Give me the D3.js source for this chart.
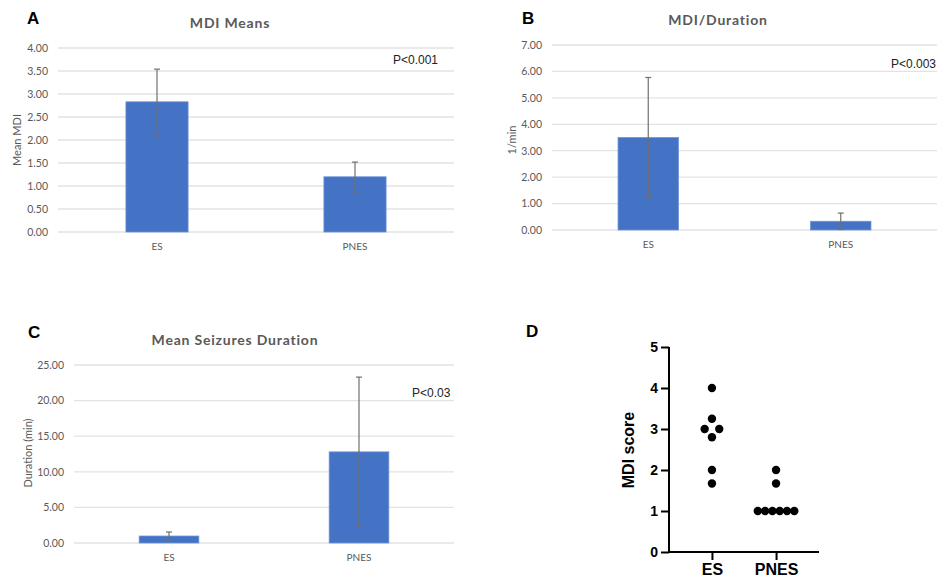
<!DOCTYPE html>
<html>
<head>
<meta charset="utf-8">
<script src="https://cdn.jsdelivr.net/npm/d3@7"></script>
<style>
  body { margin: 0; background: #fff; }
  svg { display: block; }
</style>
</head>
<body>
<svg id="fig" width="939" height="584"></svg>
<script>
// ---- data ----
var groups = ["ES", "PNES"];

var mdiMeans = [2.83, 1.20];
var mdiMeansErr = [[2.09, 3.54], [0.87, 1.52]];
var mdiMeansTicks = [0, 0.5, 1, 1.5, 2, 2.5, 3, 3.5, 4];

var mdiDur = [3.50, 0.33];
var mdiDurErr = [[1.27, 5.77], [0.02, 0.64]];
var mdiDurTicks = [0, 1, 2, 3, 4, 5, 6, 7];

var seizDur = [0.98, 12.8];
var seizDurErr = [[0.42, 1.54], [2.25, 23.3]];
var seizDurTicks = [0, 5, 10, 15, 20, 25];

var scoresES = [4, 3.25, 3, 3, 2.8, 2, 1.67];
var scoresPNES = [2, 1.67, 1, 1, 1, 1, 1, 1];
var scoreTicks = [0, 1, 2, 3, 4, 5];

var svg = d3.select("#fig");
var xlFont = "Lato, 'Open Sans', sans-serif";

/**
 * excel-ish bar chart with error bars
 */
function barPanel(o) {
    var g = svg.append("g");
    var x = d3.scaleBand().domain(groups).range([o.left, o.right])
        .paddingInner(0.686).paddingOuter(0.343);
    var y = d3.scaleLinear().domain([0, d3.max(o.ticks)]).range([o.bottom, o.top]);

    // gridlines
    g.selectAll(".grid").data(o.ticks).enter().append("line")
        .attr("x1", o.left).attr("x2", o.right)
        .attr("y1", function (d) { return y(d); })
        .attr("y2", function (d) { return y(d); })
        .style("stroke", "#e3e3e3").style("stroke-width", 1.3);

    var ax = d3.axisLeft(y).tickValues(o.ticks).tickSize(0).tickPadding(0)
        .tickFormat(d3.format(".2f"));
    var ay = g.append("g").attr("transform", "translate(" + o.labelX + ",0)").call(ax);
    ay.select(".domain").remove();
    ay.selectAll("text").style("font-family", xlFont).style("font-size", "10.5px")
        .style("fill", "#595959");

    g.selectAll(".bar").data(o.values).enter().append("rect")
        .attr("x", function (d, i) { return x(groups[i]); })
        .attr("width", x.bandwidth())
        .attr("y", function (d) { return y(d); })
        .attr("height", function (d) { return y(0) - y(d); })
        .style("fill", "#4472c4").style("stroke", "#6f93d6").style("stroke-width", 0.8);

    // error bars
    o.err.forEach(function (e, i) {
        var cx = x(groups[i]) + x.bandwidth() / 2;
        g.append("line").attr("x1", cx).attr("x2", cx)
            .attr("y1", y(e[0])).attr("y2", y(e[1]))
            .style("stroke", "#707070").style("stroke-width", 1.2);
        e.forEach(function (v) {
            g.append("line").attr("x1", cx - 3).attr("x2", cx + 3)
                .attr("y1", y(v)).attr("y2", y(v))
                .style("stroke", "#707070").style("stroke-width", 1.2);
        });
    });

    var xa = g.append("g").attr("transform", "translate(0," + (o.bottom + 7) + ")")
        .call(d3.axisBottom(x).tickSize(0).tickPadding(4));
    xa.select(".domain").remove();
    xa.selectAll("text").style("font-family", xlFont).style("font-size", "10px")
        .style("fill", "#595959");

    g.append("text").attr("x", o.titleX).attr("y", o.titleY).attr("text-anchor", "middle")
        .style("font-family", xlFont).style("font-weight", "bold").style("font-size", "14px")
        .style("letter-spacing", "0.8px").style("fill", "#595959").text(o.title);

    g.append("text")
        .attr("transform", "translate(" + o.ylabX + "," + o.ylabY + ") rotate(-90)")
        .attr("text-anchor", "middle")
        .style("font-family", xlFont).style("font-size", "11px").style("fill", "#595959")
        .text(o.ylab);

    g.append("text").attr("x", o.pX).attr("y", o.pY)
        .style("font-family", "'Liberation Sans', Arial, sans-serif").style("font-size", "12px")
        .style("fill", "#222").text(o.p);

    g.append("text").attr("x", o.letterX).attr("y", o.letterY)
        .style("font-family", "'Liberation Sans', Arial, sans-serif").style("font-weight", "bold")
        .style("font-size", "17px").style("fill", "#000").text(o.letter);
}

barPanel({
    values: mdiMeans, err: mdiMeansErr, ticks: mdiMeansTicks,
    left: 58, right: 454, top: 48, bottom: 232, labelX: 48,
    title: "MDI Means", titleX: 230, titleY: 28,
    ylab: "Mean MDI", ylabX: 21, ylabY: 140,
    p: "P<0.001", pX: 393, pY: 64, letter: "A", letterX: 27, letterY: 24
});

barPanel({
    values: mdiDur, err: mdiDurErr, ticks: mdiDurTicks,
    left: 552, right: 937, top: 45, bottom: 230, labelX: 542,
    title: "MDI/Duration", titleX: 718, titleY: 25,
    ylab: "1/min", ylabX: 516, ylabY: 140,
    p: "P<0.003", pX: 891, pY: 68, letter: "B", letterX: 522, letterY: 24
});

barPanel({
    values: seizDur, err: seizDurErr, ticks: seizDurTicks,
    left: 74, right: 454, top: 365, bottom: 543, labelX: 64,
    title: "Mean Seizures Duration", titleX: 235, titleY: 345,
    ylab: "Duration (min)", ylabX: 32, ylabY: 453,
    p: "P<0.03", pX: 412, pY: 397, letter: "C", letterX: 28, letterY: 338
});

// ---- panel D: scatter dot plot ----
var gd = svg.append("g");
var xd = d3.scalePoint().domain(groups).range([669, 819]).padding(0.67);
var yd = d3.scaleLinear().domain([0, 5]).range([552, 347]);
var arial = "'Liberation Sans', Arial, sans-serif";

var yAx = gd.append("g").attr("transform", "translate(669,0)")
    .call(d3.axisLeft(yd).tickValues(scoreTicks).tickFormat(d3.format("d"))
        .tickSize(8).tickPadding(3));
var xAx = gd.append("g").attr("transform", "translate(0,552)")
    .call(d3.axisBottom(xd).tickSize(8).tickPadding(4).tickSizeOuter(0));
[yAx, xAx].forEach(function (a) {
    a.selectAll("path, line").style("stroke", "#000").style("stroke-width", 2);
    a.selectAll("text").style("font-family", arial).style("font-weight", "bold").style("fill", "#000");
});
yAx.select(".domain").attr("d", "M0," + yd(5) + "V" + yd(0));
xAx.select(".domain").attr("d", "M669,0H819");
yAx.selectAll("text").style("font-size", "14px");
xAx.selectAll("text").style("font-size", "16px");

gd.append("text").attr("transform", "translate(634,450) rotate(-90)")
    .attr("text-anchor", "middle")
    .style("font-family", arial).style("font-weight", "bold").style("font-size", "16px")
    .text("MDI score");

gd.append("text").attr("x", 526).attr("y", 337)
    .style("font-family", arial).style("font-weight", "bold").style("font-size", "17px")
    .text("D");

// simple swarm: equal values share a row, spread symmetric; widen if a row hits a neighbour
function swarm(vals, cx) {
    var rows = d3.rollups(vals, function (v) { return v.length; }, function (d) { return d; });
    rows.sort(function (a, b) { return a[1] - b[1]; });
    var placed = [], step = 7.3, minD = 9;
    rows.forEach(function (r) {
        var n = r[1], yy = yd(r[0]), s = step, pts;
        for (var k = 0; k < 5; k++) {
            pts = d3.range(n).map(function (i) { return [cx + (i - (n - 1) / 2) * s, yy]; });
            var hit = pts.some(function (p) {
                return placed.some(function (q) {
                    return Math.hypot(p[0] - q[0], p[1] - q[1]) < minD;
                });
            });
            if (!hit) break;
            s += step;
        }
        placed = placed.concat(pts);
    });
    return placed;
}

[scoresES, scoresPNES].forEach(function (vals, i) {
    gd.selectAll(".dot" + i).data(swarm(vals, xd(groups[i]))).enter().append("circle")
        .attr("cx", function (d) { return d[0]; })
        .attr("cy", function (d) { return d[1]; })
        .attr("r", 4.2)
        .style("fill", "#000");
});
</script>
</body>
</html>
